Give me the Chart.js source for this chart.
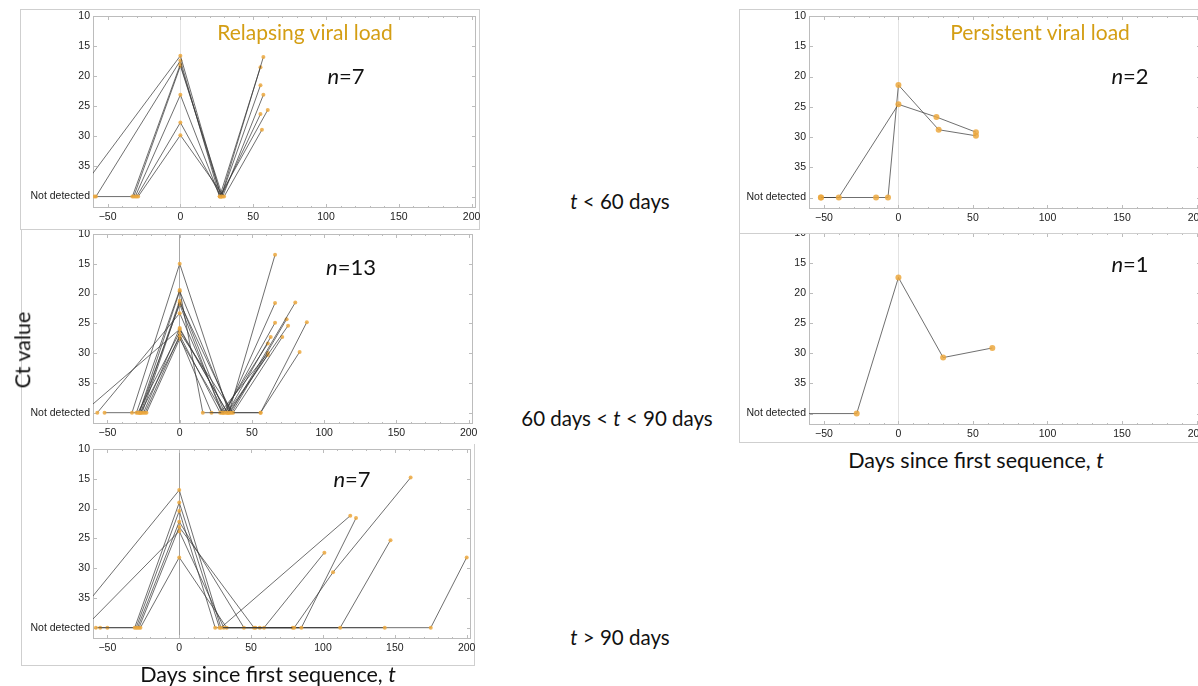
<!DOCTYPE html>
<html>
<head>
<meta charset="utf-8">
<script src="https://cdn.jsdelivr.net/npm/chart.js@4.4.1/dist/chart.umd.min.js"></script>
<style>
  html, body { margin: 0; padding: 0; background: #fff; overflow: hidden; }
  body { width: 1198px; height: 686px; position: relative; font-family: Lato, "Open Sans", sans-serif; }
  .panel { position: absolute; background: #fff; }
  .panel .frame { position: absolute; left: 0; top: 0; right: 0; bottom: 0; box-sizing: border-box; border: 0 solid #cfcfcf; }
  .panel canvas { position: absolute; left: 0; top: 0; }
  .lbl { position: absolute; transform: translate(-50%, -50%); white-space: nowrap; color: #111; line-height: 1; }
  .title { color: #D49E14; font-size: 21px; }
  .n { font-size: 22px; }
  .cond { font-size: 20.5px; }
  .axis { font-size: 21.5px; }
</style>
</head>
<body>

<div class="panel" id="w3" style="left:21px;top:441px;width:454px;height:225px">
  <div class="frame" style="border-left-width:1px;border-right-width:1px;border-bottom-width:1px"></div>
  <canvas id="c3" width="454" height="225"></canvas>
</div>
<div class="panel" id="w2" style="left:21px;top:228px;width:456px;height:216px">
  <div class="frame" style="border-left-width:1px"></div>
  <canvas id="c2" width="456" height="216"></canvas>
</div>
<div class="panel" id="w1" style="left:20px;top:9px;width:460px;height:221px">
  <div class="frame" style="border-width:1px"></div>
  <canvas id="c1" width="460" height="221"></canvas>
</div>
<div class="panel" id="w5" style="left:739px;top:226px;width:470px;height:217px">
  <div class="frame" style="border-left-width:1px;border-bottom-width:1px"></div>
  <canvas id="c5" width="470" height="217"></canvas>
</div>
<div class="panel" id="w4" style="left:739px;top:9px;width:470px;height:225px">
  <div class="frame" style="border-width:1px"></div>
  <canvas id="c4" width="470" height="225"></canvas>
</div>

<div class="lbl title" style="left:305px;top:31px">Relapsing viral load</div>
<div class="lbl title" style="left:1040px;top:31px">Persistent viral load</div>
<div class="lbl n" style="left:346px;top:76px"><i>n</i>=7</div>
<div class="lbl n" style="left:351px;top:267px"><i>n</i>=13</div>
<div class="lbl n" style="left:352px;top:479px"><i>n</i>=7</div>
<div class="lbl n" style="left:1130px;top:76px"><i>n</i>=2</div>
<div class="lbl n" style="left:1130px;top:264px"><i>n</i>=1</div>
<div class="lbl cond" style="left:620px;top:201px"><i>t</i> &lt; 60 days</div>
<div class="lbl cond" style="left:617px;top:418px">60 days &lt; <i>t</i> &lt; 90 days</div>
<div class="lbl cond" style="left:620px;top:637px"><i>t</i> &gt; 90 days</div>
<div class="lbl axis" style="left:23px;top:350px;transform:translate(-50%,-50%) rotate(-90deg)">Ct value</div>
<div class="lbl axis" style="left:268px;top:675px">Days since first sequence, <i>t</i></div>
<div class="lbl axis" style="left:976px;top:461px">Days since first sequence, <i>t</i></div>

<script>
// Not detected is plotted at Ct = 40
const ND = 40;

const xTicks = [-50, 0, 50, 100, 150, 200];
const yTicks = [10, 15, 20, 25, 30, 35, 40];
const yTickLabels = ['10', '15', '20', '25', '30', '35', 'Not detected'];

// Relapsing, t < 60 days (n=7)
const relapseShortDays = [
  [-72, 0, 28, 57],
  [-58, 0, 27, 55],
  [-59, -33, 0, 28, 55],
  [-32, 0, 29, 57],
  [-31, 0, 27, 60],
  [-30, 0, 28, 55],
  [-29, 0, 30, 56]
];
const relapseShortCt = [
  [ND, 16.6, ND, 16.8],
  [ND, 17.4, ND, 18.5],
  [ND, ND, 18.0, ND, 21.5],
  [ND, 18.3, ND, 23.1],
  [ND, 23.1, ND, 25.6],
  [ND, 27.7, ND, 26.3],
  [ND, 29.8, ND, 28.9]
];

// Relapsing, 60 days < t < 90 days (n=13)
const relapseMidDays = [
  [-67, 0, 33, 63],
  [-57, 0, 30, 61],
  [-33, 0, 34, 66],
  [-30, 0, 16, 32, 66],
  [-28, 0, 35, 80],
  [-27, 0, 31, 66],
  [-26, 0, 36, 74],
  [-28, 0, 29, 56, 88],
  [-52, -25, 0, 33, 75],
  [-29, 0, 37, 71],
  [-24, 0, 28, 61],
  [-27, 0, 22, 34, 61],
  [-23, 0, 30, 56, 83]
];
const relapseMidCt = [
  [ND, 26.0, ND, 27.3],
  [ND, 23.3, ND, 28.4],
  [ND, 15.0, ND, 13.5],
  [ND, 19.4, ND, ND, 21.6],
  [ND, 19.6, ND, 21.5],
  [ND, 21.2, ND, 24.9],
  [ND, 21.5, ND, 24.3],
  [ND, 21.8, ND, ND, 24.8],
  [ND, ND, 25.8, ND, 25.4],
  [ND, 26.5, ND, 27.3],
  [ND, 27.0, ND, 30.0],
  [ND, 27.3, ND, ND, 30.3],
  [ND, 27.6, ND, ND, 29.8]
];

// Relapsing, t > 90 days (n=7)
const relapseLongDays = [
  [-78, 0, 29, 119],
  [-31, 0, 28, 80, 107, 161],
  [-30, 0, 25, 85, 123],
  [-58, -29, 0, 45, 59, 101],
  [-28, 0, 52, 112, 147],
  [-66, 0, 31, 53, 79, 143],
  [-55, -50, -27, 0, 33, 56, 175, 200]
];
const relapseLongCt = [
  [ND, 16.9, ND, 21.2],
  [ND, 19.0, ND, ND, 30.7, 14.8],
  [ND, 20.4, ND, ND, 21.6],
  [ND, ND, 22.2, ND, ND, 27.4],
  [ND, 23.1, ND, ND, 25.3],
  [ND, 23.8, ND, ND, ND, ND],
  [ND, ND, ND, 28.2, ND, ND, ND, 28.2]
];

// Persistent, t < 60 days (n=2)
const persistShortDays = [
  [-52, -40, 0, 25.5, 52],
  [-52, -15, -7, 0, 27, 52]
];
const persistShortCt = [
  [ND, ND, 24.6, 26.7, 29.2],
  [ND, ND, ND, 21.4, 28.8, 29.8]
];

// Persistent, 60 days < t < 90 days (n=1)
const persistMidDays = [
  [-70, -28, 0, 30, 63]
];
const persistMidCt = [
  [ND, ND, 17.4, 30.7, 29.1]
];

const frameTicks = {
  id: 'frameTicks',
  beforeDatasetsDraw(chart) {
    const { ctx, chartArea: a, scales: { x, y } } = chart;
    ctx.save();
    ctx.strokeStyle = '#bcbcbc';
    ctx.lineWidth = 1;
    ctx.strokeRect(Math.round(a.left) + 0.5, Math.round(a.top) + 0.5,
      Math.round(a.right - a.left) - 1, Math.round(a.bottom - a.top) - 1);
    ctx.beginPath();
    for (let d = -60; d <= 200; d += 10) {
      const px = Math.round(x.getPixelForValue(d)) + 0.5;
      const len = d % 50 === 0 ? 4 : 2;
      ctx.moveTo(px, a.bottom); ctx.lineTo(px, a.bottom - len);
      ctx.moveTo(px, a.top); ctx.lineTo(px, a.top + len);
    }
    for (const v of yTicks) {
      const py = Math.round(y.getPixelForValue(v)) + 0.5;
      ctx.moveTo(a.left, py); ctx.lineTo(a.left + 4, py);
      ctx.moveTo(a.right, py); ctx.lineTo(a.right - 4, py);
    }
    ctx.stroke();
    ctx.restore();
  }
};

function makePanel(id, days, cts, o) {
  const datasets = days.map((dd, i) => ({
    data: dd.map((d, j) => ({ x: d, y: cts[i][j] })),
    borderColor: 'rgba(55,55,55,0.72)',
    borderWidth: 1,
    pointRadius: o.r,
    pointBorderWidth: 0,
    pointBackgroundColor: 'rgba(236,168,62,0.85)',
    tension: 0
  }));
  const tickFont = { family: '"Liberation Sans", Arial, sans-serif', size: 10.5 };
  return new Chart(document.getElementById(id), {
    type: 'line',
    data: { datasets },
    plugins: [frameTicks],
    options: {
      responsive: false,
      animation: false,
      events: [],
      layout: { padding: { top: o.padTop, right: o.padRight, left: 0, bottom: 0 } },
      plugins: { legend: { display: false }, tooltip: { enabled: false } },
      scales: {
        x: {
          type: 'linear',
          min: -60,
          max: 203,
          afterBuildTicks: (s) => { s.ticks = xTicks.map(v => ({ value: v })); },
          afterFit: (s) => { s.height = o.xh; s.paddingLeft = 0; s.paddingRight = 0; },
          ticks: {
            font: tickFont, color: '#222', padding: 3, maxRotation: 0,
            callback: (v) => String(v).replace('-', '\u2212')
          },
          border: { display: false },
          grid: {
            drawTicks: false,
            color: (c) => (c.tick && c.tick.value === 0) ? o.zero : 'rgba(0,0,0,0)'
          }
        },
        y: {
          type: 'linear',
          reverse: true,
          min: 10,
          max: 41.9,
          afterBuildTicks: (s) => { s.ticks = yTicks.map(v => ({ value: v })); },
          afterFit: (s) => { s.width = o.yw; s.paddingTop = 0; s.paddingBottom = 0; },
          ticks: {
            font: tickFont, color: '#222', padding: 3,
            callback: (v) => yTickLabels[yTicks.indexOf(v)]
          },
          border: { display: false },
          grid: { display: false, drawTicks: false }
        }
      }
    }
  });
}

makePanel('c1', relapseShortDays, relapseShortCt, { r: 2, padTop: 7, padRight: 3, xh: 22, yw: 73, zero: '#e2e2e2' });
makePanel('c2', relapseMidDays, relapseMidCt, { r: 2, padTop: 6, padRight: 2, xh: 20, yw: 72, zero: '#a8a8a8' });
makePanel('c3', relapseLongDays, relapseLongCt, { r: 2, padTop: 8, padRight: 2, xh: 27, yw: 72, zero: '#a0a0a0' });
makePanel('c4', persistShortDays, persistShortCt, { r: 3, padTop: 7, padRight: 8, xh: 25, yw: 70, zero: '#e2e2e2' });
makePanel('c5', persistMidDays, persistMidCt, { r: 3, padTop: 7, padRight: 8, xh: 18, yw: 70, zero: '#e2e2e2' });
</script>
</body>
</html>
